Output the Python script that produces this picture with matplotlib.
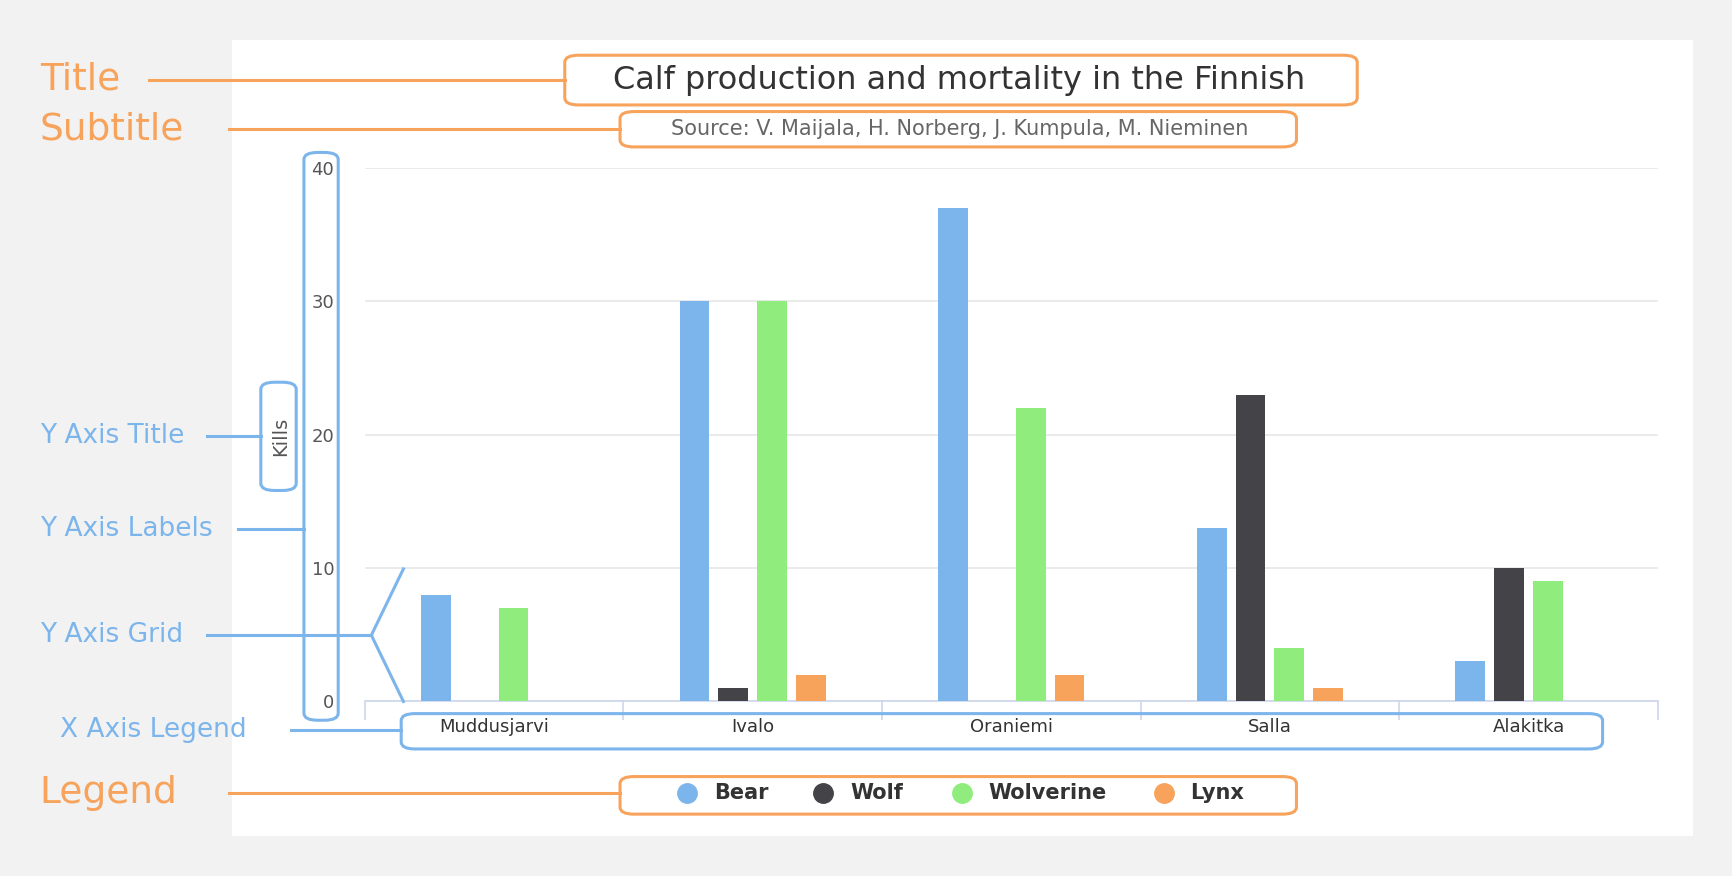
import matplotlib.pyplot as plt
from matplotlib.patches import FancyBboxPatch, Rectangle
import numpy as np

categories = ["Muddusjarvi", "Ivalo", "Oraniemi", "Salla", "Alakitka"]
bear = [8, 30, 37, 13, 3]
wolf = [0, 1, 0, 23, 10]
wolverine = [7, 30, 22, 4, 9]
lynx = [0, 2, 2, 1, 0]
series = [("Bear", bear, "#7cb5ec"), ("Wolf", wolf, "#434348"),
          ("Wolverine", wolverine, "#90ed7d"), ("Lynx", lynx, "#f7a35c")]

W, H = 1568.0, 793.0
ORANGE = "#f7a35c"
BLUE = "#7cb5ec"


def fx(x):
    return x / W


def fy(y):
    return 1 - y / H


fig = plt.figure(figsize=(17.33, 8.76), dpi=100, facecolor="#f2f2f2")
fig.patches.append(Rectangle((fx(210), fy(757)), (1532 - 210) / W, (757 - 36) / H,
                             transform=fig.transFigure, facecolor="white", edgecolor="none", zorder=-5))

ax = fig.add_axes([fx(330), fy(635), 1170 / W, 483 / H])
ax.set_zorder(2)
x = np.arange(len(categories))
offsets = np.array([-1.5, -0.5, 0.5, 1.5]) * 0.15
for (name, vals, col), off in zip(series, offsets):
    ax.bar(x + off, vals, width=0.115, color=col, zorder=3)
ax.set_xlim(-0.5, 4.5)
ax.set_ylim(0, 40)
ax.set_yticks([0, 10, 20, 30, 40])
ax.yaxis.grid(True, color="#e6e6e6", lw=1.2)
ax.set_axisbelow(True)
ax.set_xticks(x)
ax.set_xticklabels(categories, fontsize=13, color="#333333")
ax.set_xticks(np.arange(-0.5, 5, 1), minor=True)
ax.tick_params(axis="x", which="major", length=0, pad=12)
ax.tick_params(axis="x", which="minor", length=14, color="#ccd6eb", width=1.2)
ax.tick_params(axis="y", length=0, labelsize=13, labelcolor="#555555", pad=22)
for s in ["top", "right", "left"]:
    ax.spines[s].set_visible(False)
ax.spines["bottom"].set_color("#ccd6eb")
ax.spines["bottom"].set_linewidth(1.2)
ax.patch.set_alpha(0)

fig.text(fx(868), fy(73), "Calf production and mortality in the Finnish", ha="center", va="center",
         fontsize=23, color="#333333")
fig.text(fx(868), fy(117), "Source: V. Maijala, H. Norberg, J. Kumpula, M. Nieminen", ha="center",
         va="center", fontsize=15, color="#666666")
fig.text(fx(254), fy(395), "Kills", rotation=90, ha="center", va="center", fontsize=14, color="#555555")

# legend
lx = [622, 745, 870, 1053]
for (name, vals, col), px in zip(series, lx):
    fig.lines.append(plt.Line2D([fx(px)], [fy(718)], marker="o", ms=14, color=col,
                                transform=fig.transFigure, lw=0))
    fig.text(fx(px + 24), fy(718), name, ha="left", va="center", fontsize=15,
             fontweight="bold", color="#333333")


def box(x0, y0, x1, y1, col):
    fig.patches.append(FancyBboxPatch((fx(x0), fy(y1)), (x1 - x0) / W, (y1 - y0) / H,
                                      boxstyle="round,pad=0,rounding_size=0.008",
                                      transform=fig.transFigure, facecolor="none",
                                      edgecolor=col, lw=2.2, zorder=5))


def line(xs, ys, col):
    fig.lines.append(plt.Line2D([fx(v) for v in xs], [fy(v) for v in ys], color=col, lw=2.2,
                                transform=fig.transFigure, zorder=5))


box(511, 50, 1228, 95, ORANGE)
box(561, 101, 1173, 133, ORANGE)
box(561, 703, 1173, 737, ORANGE)
box(275, 138, 306, 652, BLUE)
box(236, 346, 268, 444, BLUE)
box(363, 646, 1450, 678, BLUE)

line([135, 511], [72, 72], ORANGE)
line([207, 561], [117, 117], ORANGE)
line([207, 561], [718, 718], ORANGE)
line([187, 236], [395, 395], BLUE)
line([215, 275], [479, 479], BLUE)
line([187, 336], [575, 575], BLUE)
line([365, 336, 365], [515, 575, 635], BLUE)
line([263, 363], [661, 661], BLUE)

fig.text(fx(36), fy(72), "Title", fontsize=27, color=ORANGE, va="center")
fig.text(fx(36), fy(117), "Subtitle", fontsize=27, color=ORANGE, va="center")
fig.text(fx(36), fy(718), "Legend", fontsize=27, color=ORANGE, va="center")
fig.text(fx(36), fy(395), "Y Axis Title", fontsize=19, color=BLUE, va="center")
fig.text(fx(36), fy(479), "Y Axis Labels", fontsize=19, color=BLUE, va="center")
fig.text(fx(36), fy(575), "Y Axis Grid", fontsize=19, color=BLUE, va="center")
fig.text(fx(54), fy(661), "X Axis Legend", fontsize=19, color=BLUE, va="center")

fig.savefig("out.png", dpi=100, facecolor=fig.get_facecolor())
